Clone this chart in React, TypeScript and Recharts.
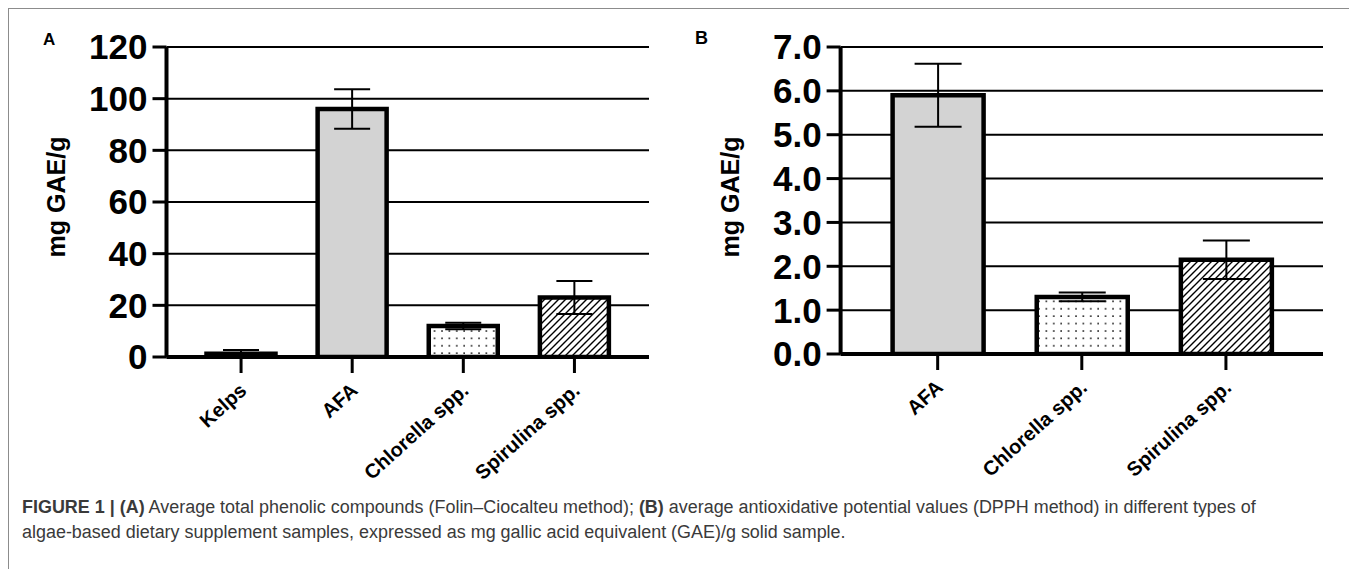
import { BarChart, Bar, XAxis, YAxis, CartesianGrid, ErrorBar, Cell } from "recharts";

// panel A: total phenolic compounds (Folin–Ciocalteu)
const catsA = ["Kelps", "AFA", "Chlorella spp.", "Spirulina spp."];
const meanA = [1.3, 96, 12, 23];
const errA = [1.4, 7.6, 1.3, 6.4];
const ticksA = [0, 20, 40, 60, 80, 100, 120];

// panel B: antioxidative potential (DPPH)
const catsB = ["AFA", "Chlorella spp.", "Spirulina spp."];
const meanB = [5.9, 1.3, 2.15];
const errB = [0.72, 0.1, 0.44];
const ticksB = [0, 1, 2, 3, 4, 5, 6, 7];

const dataA = catsA.map((name, i) => ({ name, value: meanA[i], err: errA[i] }));
const dataB = catsB.map((name, i) => ({ name, value: meanB[i], err: errB[i] }));

const FONT = '"Liberation Sans", Arial, Helvetica, sans-serif';

function fillFor(name: string) {
  if (name.startsWith("Chlorella")) return "url(#dots)";
  if (name.startsWith("Spirulina")) return "url(#hatch)";
  return "#d3d3d3";
}

function XTick({ x, y, payload }: any) {
  return (
    <g transform={`translate(${x + 2},${y})`}>
      <text
        textAnchor="end"
        transform="rotate(-42)"
        dy="0.35em"
        fontSize={20}
        fontWeight="bold"
        fontFamily={FONT}
        fill="#000"
      >
        {payload.value}
      </text>
    </g>
  );
}

function YLabel({ viewBox }: any) {
  const cx = viewBox.x - 2;
  const cy = 188;
  return (
    <text
      x={cx}
      y={cy}
      textAnchor="middle"
      transform={`rotate(-90, ${cx}, ${cy})`}
      fontSize={25}
      fontWeight="bold"
      fontFamily={FONT}
      fill="#000"
    >
      mg GAE/g
    </text>
  );
}

const yTickStyle = { fill: "#000", fontSize: 35, fontWeight: "bold", fontFamily: FONT };

function Panel({ data, ticks, max, fmt, mLeft, mRight, mBottom, barSize, pad, capW }: any) {
  return (
    <BarChart
      width={660}
      height={500}
      data={data}
      margin={{ top: 38, right: mRight, left: mLeft, bottom: mBottom }}
    >
      <CartesianGrid vertical={false} stroke="#000" strokeWidth={2} />
      <XAxis
        dataKey="name"
        interval={0}
        padding={{ left: pad, right: pad }}
        axisLine={{ stroke: "#000", strokeWidth: 4 }}
        tickLine={{ stroke: "#000", strokeWidth: 3 }}
        tickSize={16}
        tickMargin={14}
        height={110}
        tick={<XTick />}
      />
      <YAxis
        width={100}
        domain={[0, max]}
        ticks={ticks}
        interval={0}
        allowDataOverflow
        tickFormatter={fmt}
        axisLine={{ stroke: "#000", strokeWidth: 4 }}
        tickLine={{ stroke: "#000", strokeWidth: 3 }}
        tickSize={14}
        tickMargin={5}
        tick={yTickStyle}
        label={<YLabel />}
      />
      <Bar dataKey="value" barSize={barSize} stroke="#000" strokeWidth={4.5} isAnimationActive={false}>
        {data.map((d: any) => (
          <Cell key={d.name} fill={fillFor(d.name)} />
        ))}
        <ErrorBar dataKey="err" width={capW} stroke="#000" strokeWidth={2} isAnimationActive={false} />
      </Bar>
    </BarChart>
  );
}

export default function App() {
  return (
    <div
      style={{
        position: "relative",
        width: 1344,
        height: 600,
        border: "1px solid #8c8c8c",
        boxSizing: "border-box",
        fontFamily: FONT,
        background: "#fff",
      }}
    >
      <svg width={0} height={0} style={{ position: "absolute" }}>
        <defs>
          <pattern id="dots" patternUnits="userSpaceOnUse" width={7.4} height={7.4}>
            <rect width={7.4} height={7.4} fill="#fff" />
            <rect x={3} y={3} width={1.6} height={1.6} fill="#222" />
          </pattern>
          <pattern id="hatch" patternUnits="userSpaceOnUse" width={7} height={7}>
            <rect width={7} height={7} fill="#fff" />
            <path d="M0,7 L7,0 M-1,1 L1,-1 M6,8 L8,6" stroke="#000" strokeWidth={1.4} />
          </pattern>
        </defs>
      </svg>

      <div style={{ position: "absolute", left: 0, top: 0 }}>
        <Panel
          data={dataA}
          ticks={ticksA}
          max={120}
          fmt={(v: number) => String(v)}
          mLeft={57.5}
          mRight={20}
          mBottom={42}
          barSize={69}
          pad={19}
          capW={18}
        />
      </div>
      <div style={{ position: "absolute", left: 671, top: 0 }}>
        <Panel
          data={dataB}
          ticks={ticksB}
          max={7}
          fmt={(v: number) => v.toFixed(1)}
          mLeft={60.6}
          mRight={17}
          mBottom={45}
          barSize={91}
          pad={25}
          capW={23.5}
        />
      </div>

      <div style={{ position: "absolute", left: 34, top: 21, fontSize: 17, fontWeight: "bold" }}>A</div>
      <div style={{ position: "absolute", left: 686, top: 19, fontSize: 18, fontWeight: "bold" }}>B</div>

      <div
        style={{
          position: "absolute",
          left: 13,
          top: 486,
          fontSize: 17.95,
          lineHeight: "25px",
          color: "#3a3a3a",
          whiteSpace: "nowrap",
        }}
      >
        <b>FIGURE 1 | (A)</b> Average total phenolic compounds (Folin–Ciocalteu method); <b>(B)</b> average
        antioxidative potential values (DPPH method) in different types of
        <br />
        algae-based dietary supplement samples, expressed as mg gallic acid equivalent (GAE)/g solid sample.
      </div>
    </div>
  );
}
